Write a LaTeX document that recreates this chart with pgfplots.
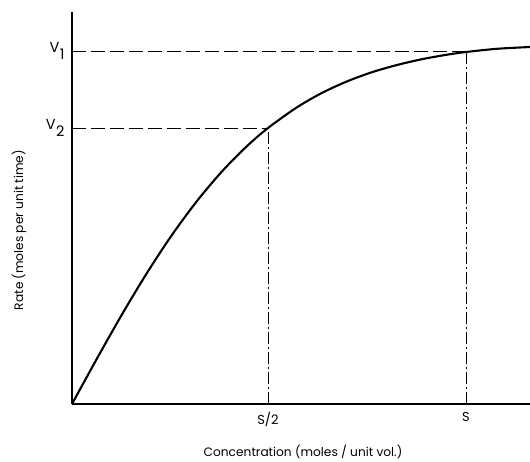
\documentclass[border=0pt]{standalone}
\usepackage{pgfplots}
\pgfplotsset{compat=1.18}
\usepackage{fontspec}
\setmainfont{Poppins}
\pgfplotstableread{
x y
0 0
25 45.5
50 89.6
75 131.1
100 169.1
125 203.0
150 232.6
175 257.9
196 276.0
225 296.7
250 311.1
275 322.6
300 331.8
325 339.0
350 344.8
375 349.3
394 352.0
425 355.2
458 357.0
}\curvedata
\begin{document}
\begin{tikzpicture}[x=1pt,y=1pt]
\path[use as bounding box] (-72,-57) rectangle (458,404);
\begin{axis}[
  at={(0,0)}, anchor=south west,
  scale only axis, width=458pt, height=392pt,
  xmin=0, xmax=458, ymin=0, ymax=392,
  axis lines=left,
  axis line style={-, line width=1.9pt},
  xtick={196,394}, xticklabels={S/2,S},
  ytick={276,353}, yticklabels={V\kern0.5pt\raisebox{-0.45em}{2}, V\kern0.5pt\raisebox{-0.45em}{1}},
  major tick length=0pt,
  xticklabel style={font=\fontsize{13}{15}\selectfont, yshift=-5pt},
  yticklabel style={font=\fontsize{14.5}{16}\selectfont, xshift=-4pt},
  clip=false,
]
\addplot[no marks, smooth, line width=2.1pt, black] table[x=x,y=y] {\curvedata};
\addplot[no marks, black, line width=0.8pt, dash pattern=on 14pt off 5pt] coordinates {(0,353) (394,353)};
\addplot[no marks, black, line width=0.8pt, dash pattern=on 14pt off 5pt] coordinates {(0,276) (196,276)};
\addplot[no marks, black, line width=0.7pt, dash pattern=on 12pt off 3pt on 2pt off 3pt] coordinates {(196,0) (196,276)};
\addplot[no marks, black, line width=0.7pt, dash pattern=on 12pt off 3pt on 2pt off 3pt] coordinates {(394,0) (394,353)};
\node[font=\fontsize{12.2}{14}\selectfont] at (axis cs:231,-48) {Concentration (moles / unit vol.)};
\node[font=\fontsize{12.2}{14}\selectfont, rotate=90] at (axis cs:-53,174) {Rate (moles per unit time)};
\end{axis}
\end{tikzpicture}
\end{document}
